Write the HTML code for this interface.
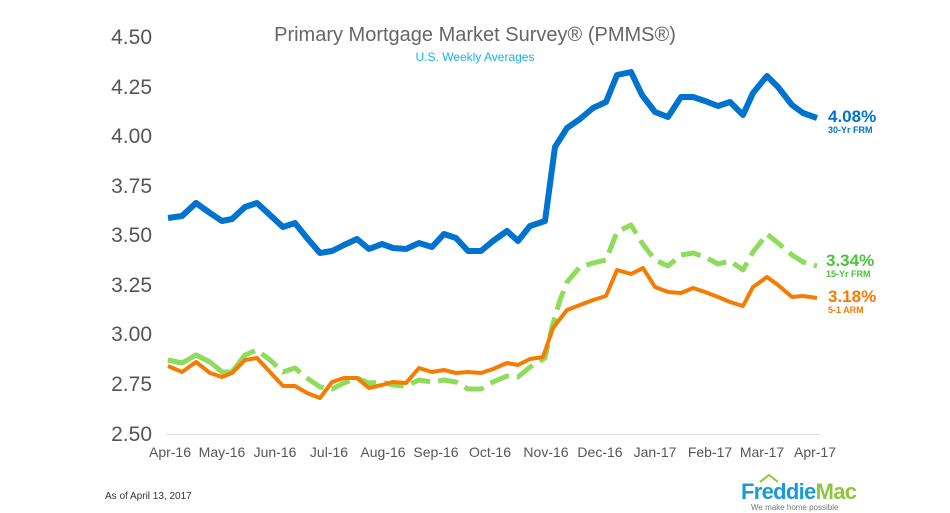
<!DOCTYPE html>
<html><head><meta charset="utf-8"><style>
body{margin:0;background:#fff;width:950px;height:513px;overflow:hidden}
svg{display:block}
</style></head><body>
<svg width="950" height="513" xmlns="http://www.w3.org/2000/svg" font-family="Liberation Sans, sans-serif">
<text x="475" y="41" text-anchor="middle" font-size="20" fill="#666">Primary Mortgage Market Survey® (PMMS®)</text>
<text x="475" y="61" text-anchor="middle" font-size="12" fill="#1ab0f0">U.S. Weekly Averages</text>
<g font-size="21" fill="#555" text-anchor="end">
<text x="152" y="44">4.50</text><text x="152" y="94">4.25</text><text x="152" y="143">4.00</text><text x="152" y="193">3.75</text><text x="152" y="242">3.50</text><text x="152" y="292">3.25</text><text x="152" y="341">3.00</text><text x="152" y="391">2.75</text><text x="152" y="441">2.50</text>
</g>
<line x1="166" y1="434.5" x2="820" y2="434.5" stroke="#ddd" stroke-width="1"/>
<g font-size="14" fill="#555" text-anchor="middle">
<text x="170" y="457">Apr-16</text><text x="222" y="457">May-16</text><text x="275" y="457">Jun-16</text><text x="329" y="457">Jul-16</text><text x="383" y="457">Aug-16</text><text x="436" y="457">Sep-16</text><text x="490" y="457">Oct-16</text><text x="546" y="457">Nov-16</text><text x="600" y="457">Dec-16</text><text x="655" y="457">Jan-17</text><text x="710" y="457">Feb-17</text><text x="762" y="457">Mar-17</text><text x="815" y="457">Apr-17</text>
</g>
<polyline fill="none" stroke="#8fdc5c" stroke-width="5" stroke-linejoin="round" stroke-dasharray="20,8" points="168,360 182,363 196,355 210,362 222,372 232,372 245,355 257,350 270,360 283,372 295,368 307,378 320,387 332,389 344,383 357,378 369,383 382,382 393,385 406,386 419,380 432,382 444,380 456,382 468,389 481,389 493,382 507,376 518,377 530,367 545,358 552,327 560,300 567,282 580,267 593,263 606,260 617,232 631,225 642,243 655,260 668,266 681,255 693,253 705,257 718,264 730,261 743,270 753,252 767,234 778,243 792,255 803,262 817,266"/>
<polyline fill="none" stroke="#8fdc5c" stroke-width="5" stroke-linejoin="round" points="168,360 182,363 196,355 210,362 222,372 232,372 245,355"/>
<polyline fill="none" stroke="#f57c00" stroke-width="4" stroke-linejoin="round" points="168,366 182,372 196,362 210,373 222,377 232,373 245,360 257,358 270,372 283,386 295,386 307,393 320,398 332,382 344,378 357,378 369,388 382,385 393,382 406,383 419,368 432,372 444,370 456,373 468,372 481,373 493,369 507,363 518,365 530,359 543,357 553,328 567,310 580,305 593,300 606,296 617,270 631,274 643,268 655,287 668,292 681,293 693,288 705,292 718,297 730,302 743,306 753,287 767,277 778,285 792,297 803,296 817,298"/>
<polyline fill="none" stroke="#0073cf" stroke-width="6" stroke-linejoin="round" points="168,218 182,216 196,203 210,213 222,221 232,219 245,207 257,203 270,215 283,227 295,223 307,238 320,253 332,251 344,245 357,239 369,249 382,244 393,248 406,249 419,243 432,247 444,234 456,238 468,251 481,251 493,241 507,231 518,241 530,226 545,221 555,147 567,128 580,119 593,108 606,102 617,75 631,72 642,95 655,112 668,117 681,97 693,97 705,101 718,106 730,102 743,115 753,93 767,76 778,87 792,105 803,113 817,118"/>
<text x="828" y="122" font-size="17" font-weight="bold" fill="#0073cf">4.08%</text>
<text x="828" y="133" font-size="9" font-weight="bold" fill="#0073cf">30-Yr FRM</text>
<text x="826" y="266" font-size="17" font-weight="bold" fill="#4cc43c">3.34%</text>
<text x="826" y="277" font-size="9" font-weight="bold" fill="#4cc43c">15-Yr FRM</text>
<text x="828" y="302" font-size="17" font-weight="bold" fill="#f57c00">3.18%</text>
<text x="828" y="313" font-size="9" font-weight="bold" fill="#f57c00">5-1 ARM</text>
<text x="105" y="499" font-size="10" fill="#333">As of April 13, 2017</text>
<polyline points="760,482 769,475 778,482" fill="none" stroke="#8cc63f" stroke-width="2"/>
<text x="741" y="499" font-size="22" font-weight="bold" fill="#1a9ad6" textLength="116">Freddie<tspan fill="#8cc63f">Mac</tspan></text>
<text x="751" y="510" font-size="8" fill="#777">We make home possible</text>
</svg>
</body></html>
